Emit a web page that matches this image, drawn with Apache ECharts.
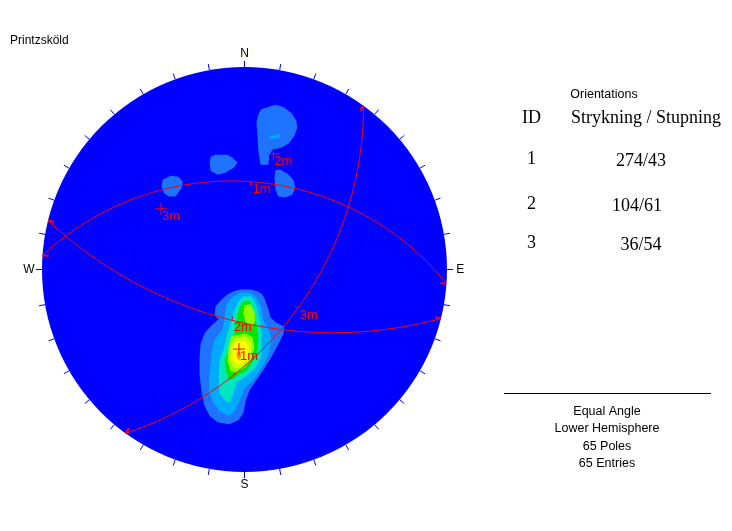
<!DOCTYPE html>
<html><head><meta charset="utf-8">
<script src="https://cdn.jsdelivr.net/npm/echarts@6/dist/echarts.min.js"></script>
<style>html,body{margin:0;padding:0;background:#fff}#c{width:732px;height:531px}</style>
</head><body><div id="c"></div>
<script>
// ---- data: planes (strike / dip, right-hand rule) ----
const planeIds = ['1', '2', '3'];
const strikes = [274, 104, 36];
const dips = [43, 61, 54];
const tickAzimuths = [0,10,20,30,40,50,60,70,80,90,100,110,120,130,140,150,160,170,180,190,200,210,220,230,240,250,260,270,280,290,300,310,320,330,340,350];
const directionLabels = ['N', 'E', 'S', 'W'];
const directionAzimuths = [0, 90, 180, 270];

// ---- density contours, vertices in % of primitive radius (x east, y north) ----
const mainL1 = [[-5.4,-10.8],[-2.0,-9.9],[3.0,-9.9],[6.4,-10.8],[8.9,-12.3],[10.3,-15.3],[11.8,-19.7],[12.8,-23.6],[15.3,-26.1],[19.7,-28.1],[19.2,-32.0],[16.7,-36.9],[13.8,-42.4],[9.9,-48.8],[5.9,-54.7],[2.5,-59.6],[0.5,-65.0],[-0.5,-70.9],[-3.0,-74.4],[-7.4,-76.4],[-13.3,-75.4],[-17.2,-72.4],[-19.7,-67.5],[-21.2,-60.6],[-22.2,-51.7],[-22.2,-43.3],[-21.7,-36.9],[-19.7,-31.5],[-16.3,-27.6],[-12.8,-24.6],[-14.8,-22.7],[-14.3,-18.2],[-11.3,-14.8],[-8.4,-12.3]];
const mainL2 = [[-2.5,-11.3],[2.5,-11.3],[5.9,-13.8],[8.4,-18.7],[9.4,-25.1],[11.8,-29.6],[13.3,-34.5],[12.3,-40.4],[9.4,-47.3],[4.4,-54.7],[0,-58.6],[-2.0,-64.0],[-4.9,-70.0],[-7.9,-72.4],[-12.3,-70.0],[-15.3,-66.0],[-17.7,-59.6],[-17.2,-51.2],[-16.3,-41.9],[-14.8,-34.5],[-10.8,-29.6],[-9.9,-23.6],[-8.9,-17.2],[-5.4,-13.3]];
const mainL3 = [[-0.5,-13.3],[3.4,-13.3],[5.9,-17.7],[7.4,-24.6],[8.4,-31.0],[8.4,-36.9],[8.4,-41.4],[6.9,-46.3],[4.4,-49.8],[-0.5,-53.7],[-3.9,-55.7],[-5.4,-61.1],[-7.4,-66.0],[-9.9,-64.5],[-12.3,-61.1],[-12.8,-52.7],[-12.3,-44.8],[-10.3,-39.4],[-8.9,-33.5],[-7.4,-28.6],[-5.4,-20.7],[-3.0,-15.8]];
const mainL4 = [[-0.5,-15.8],[2.5,-15.3],[4.4,-19.7],[5.9,-26.6],[6.9,-33.0],[6.4,-39.9],[4.4,-45.3],[1.0,-49.8],[-3.9,-52.7],[-7.4,-54.7],[-8.9,-51.2],[-9.9,-44.8],[-7.9,-40.4],[-6.4,-36.0],[-4.9,-31.5],[-3.9,-25.1],[-2.5,-19.2]];
const mainL5a = [[0,-17.7],[3.0,-17.2],[4.9,-20.7],[5.4,-25.6],[3.4,-28.1],[0.5,-26.1],[-0.5,-21.7]];
const mainL5b = [[-6.4,-33.0],[0.5,-31.5],[3.9,-33.5],[4.9,-38.4],[3.4,-44.3],[0.5,-48.3],[-3.4,-50.7],[-6.9,-50.2],[-8.4,-45.3],[-7.9,-38.4]];
const mainL6 = [[-5.4,-34.5],[0.5,-33.0],[3.0,-35.5],[3.4,-40.4],[1.5,-45.3],[-2.0,-48.8],[-5.4,-48.8],[-7.4,-44.3],[-6.9,-38.4]];
const mainL7 = [[-4.4,-36.0],[0,-35.0],[2.0,-37.9],[1.5,-42.9],[-1.0,-46.3],[-3.9,-46.8],[-5.9,-43.3],[-5.9,-38.9]];
const mainL8 = [[-3.9,-40.9],[-2.0,-40.9],[-1.5,-43.3],[-3.0,-44.8],[-3.9,-43.3]];
const northL1 = [[10.3,79.8],[15.3,81.3],[19.2,80.3],[23.2,77.3],[25.6,73.4],[26.1,70.0],[24.6,66.0],[21.7,62.1],[18.2,60.1],[13.8,59.1],[12.3,56.7],[11.8,51.7],[7.9,51.7],[6.9,58.1],[6.4,66.5],[5.9,72.9],[6.9,76.8],[8.4,79.3]];
const northL2 = [[12.3,65.5],[15.8,66.5],[17.2,67.0],[17.2,65.0],[12.8,64.5]];
const midL1 = [[-16.7,55.7],[-14.3,56.7],[-8.4,56.7],[-5.9,55.2],[-3.4,52.7],[-5.4,50.2],[-9.4,47.8],[-13.3,46.8],[-16.7,48.8],[-17.2,52.7]];
const westL1 = [[-40.4,44.3],[-36.5,46.3],[-32.5,45.8],[-30.5,43.3],[-31.0,40.4],[-34.0,36.0],[-37.4,36.0],[-39.9,37.9],[-40.9,40.9]];
const eastL1 = [[15.3,49.3],[17.7,49.3],[21.2,47.3],[24.1,44.3],[25.1,40.4],[23.6,36.9],[20.2,35.5],[16.7,36.0],[15.3,39.4],[14.8,45.3]];

const contours = [
  { level: 1, pts: mainL1 }, { level: 1, pts: northL1 }, { level: 1, pts: midL1 },
  { level: 1, pts: westL1 }, { level: 1, pts: eastL1 },
  { level: 2, pts: mainL2 }, { level: 2, pts: northL2 },
  { level: 3, pts: mainL3 }, { level: 4, pts: mainL4 },
  { level: 5, pts: mainL5a }, { level: 5, pts: mainL5b },
  { level: 6, pts: mainL6 }, { level: 7, pts: mainL7 }, { level: 8, pts: mainL8 }
];

// ---- styles ----
const levelColors = { 1: '#1e74ff', 2: '#00aaff', 3: '#00e6be', 4: '#00e600', 5: '#8cff00', 6: '#d2ff00', 7: '#ffff00', 8: '#ffa000' };
const RED = '#ff0000';
const BLUE = '#0000ff';
const SANS = '"Liberation Sans", Arial, sans-serif';
const SERIF = '"Liberation Serif", "Times New Roman", serif';

// ---- stereographic (equal angle) lower-hemisphere projection, % of radius ----
const rad = d => d * Math.PI / 180;
function project(trend, plunge) {
  const r = 100 * Math.tan(rad((90 - plunge) / 2));
  return [r * Math.sin(rad(trend)), r * Math.cos(rad(trend))];
}
function greatCircle(strike, dip) {
  const pts = [];
  for (let a = 0; a <= 180; a += 1) {
    const p = Math.atan(Math.tan(rad(dip)) * Math.sin(rad(a))) * 180 / Math.PI;
    pts.push(project(strike + a, p));
  }
  return pts;
}
const poles = planeIds.map((id, i) => { const p = project(strikes[i] - 90, 90 - dips[i]); return [p[0], p[1], id]; });
const mids = planeIds.map((id, i) => { const p = project(strikes[i] + 90, dips[i]); return [p[0], p[1], id]; });
const ends = [];
strikes.forEach(s => { ends.push([s]); ends.push([s + 180]); });

const chart = echarts.init(document.getElementById('c'), null, { renderer: 'canvas' });

const series = [];
// primitive circle
series.push({
  type: 'custom', z: 1, silent: true, clip: false, data: [[0, 0]],
  renderItem: (params, api) => {
    const c = api.coord([0, 0]); const e = api.coord([100, 0]);
    return { type: 'circle', shape: { cx: c[0], cy: c[1], r: e[0] - c[0] }, style: { fill: BLUE } };
  }
});
// ticks every 10°
series.push({
  type: 'custom', z: 2, silent: true, clip: false, data: tickAzimuths.map(a => [a]),
  renderItem: (params, api) => {
    const a = rad(api.value(0));
    const p1 = api.coord([100 * Math.sin(a), 100 * Math.cos(a)]);
    const p2 = api.coord([103 * Math.sin(a), 103 * Math.cos(a)]);
    return { type: 'line', shape: { x1: p1[0], y1: p1[1], x2: p2[0], y2: p2[1] }, style: { stroke: BLUE, lineWidth: 1 } };
  }
});
// direction labels
series.push({
  type: 'custom', z: 2, silent: true, clip: false,
  data: directionAzimuths.map((a, i) => [a, directionLabels[i]]),
  renderItem: (params, api) => {
    const a = rad(api.value(0));
    const p = api.coord([106.5 * Math.sin(a), 106.5 * Math.cos(a)]);
    return { type: 'text', x: p[0], y: p[1], style: { text: directionLabels[params.dataIndex], font: '12px ' + SANS, fill: '#000', align: 'center', verticalAlign: 'middle' } };
  }
});
// contours (sorted by level so inner levels lie on top)
contours.slice().sort((a, b) => a.level - b.level).forEach(ct => {
  series.push({
    type: 'custom', z: 3, silent: true, clip: false, data: ct.pts,
    renderItem: (params, api) => {
      if (params.dataIndex !== 0) return null;
      const pts = ct.pts.map(p => api.coord(p));
      return { type: 'polygon', shape: { points: pts }, style: { fill: levelColors[ct.level] } };
    }
  });
});
// great circles
planeIds.forEach((id, i) => {
  series.push({
    type: 'line', z: 4, silent: true, data: greatCircle(strikes[i], dips[i]), showSymbol: false, clip: false,
    lineStyle: { color: RED, width: 1 }, animation: false
  });
});
// end ticks of great circles
series.push({
  type: 'custom', z: 5, silent: true, clip: false, data: ends,
  renderItem: (params, api) => {
    const a = rad(api.value(0));
    const p1 = api.coord([100 * Math.sin(a), 100 * Math.cos(a)]);
    const p2 = api.coord([97 * Math.sin(a), 97 * Math.cos(a)]);
    return { type: 'line', shape: { x1: p1[0], y1: p1[1], x2: p2[0], y2: p2[1] }, style: { stroke: RED, lineWidth: 2 } };
  }
});
// mid-point ticks and labels
series.push({
  type: 'custom', z: 5, silent: true, clip: false, data: mids.map(m => [m[0], m[1]]),
  renderItem: (params, api) => {
    const x = api.value(0), y = api.value(1);
    const len = Math.hypot(x, y);
    const p = api.coord([x, y]);
    const q = api.coord([x - 2 * x / len, y - 2 * y / len]);
    return { type: 'group', children: [
      { type: 'line', shape: { x1: p[0], y1: p[1], x2: q[0], y2: q[1] }, style: { stroke: RED, lineWidth: 1 } },
      { type: 'text', x: p[0] + 2, y: p[1] + 1, style: { text: mids[params.dataIndex][2] + 'm', font: '13px ' + SANS, fill: RED, align: 'left', verticalAlign: 'top' } }
    ] };
  }
});
// poles
series.push({
  type: 'custom', z: 5, silent: true, clip: false, data: poles.map(m => [m[0], m[1]]),
  renderItem: (params, api) => {
    const p = api.coord([api.value(0), api.value(1)]);
    return { type: 'group', children: [
      { type: 'line', shape: { x1: p[0] - 6, y1: p[1], x2: p[0] + 6, y2: p[1] }, style: { stroke: RED, lineWidth: 1 } },
      { type: 'line', shape: { x1: p[0], y1: p[1] - 6, x2: p[0], y2: p[1] + 6 }, style: { stroke: RED, lineWidth: 1 } },
      { type: 'text', x: p[0] + 1, y: p[1] + 1, style: { text: poles[params.dataIndex][2] + 'm', font: '13px ' + SANS, fill: RED, align: 'left', verticalAlign: 'top' } }
    ] };
  }
});

const tableText = [];
const rowY = [159, 204, 243];
const rowValueX = [641, 637, 641];
planeIds.forEach((id, i) => {
  tableText.push({ type: 'text', x: 527, y: rowY[i], style: { text: id, font: '18px ' + SERIF, fill: '#000', align: 'left', verticalAlign: 'middle' } });
  tableText.push({ type: 'text', x: rowValueX[i], y: rowY[i] + 2, style: { text: String(strikes[i]) + '/' + String(dips[i]), font: '18px ' + SERIF, fill: '#000', align: 'center', verticalAlign: 'middle' } });
});

chart.setOption({
  animation: false,
  backgroundColor: '#ffffff',
  grid: { left: 42, top: 67, width: 405, height: 405, containLabel: false },
  xAxis: { type: 'value', min: -100, max: 100, show: false },
  yAxis: { type: 'value', min: -100, max: 100, show: false },
  series: series,
  graphic: [
    { type: 'text', x: 10, y: 41, style: { text: 'Printzsköld', font: '12px ' + SANS, fill: '#000', align: 'left', verticalAlign: 'middle' } },
    { type: 'text', x: 604, y: 95, style: { text: 'Orientations', font: '12.5px ' + SANS, fill: '#000', align: 'center', verticalAlign: 'middle' } },
    { type: 'text', x: 522, y: 118, style: { text: 'ID', font: '18px ' + SERIF, fill: '#000', align: 'left', verticalAlign: 'middle' } },
    { type: 'text', x: 571, y: 118, style: { text: 'Strykning / Stupning', font: '18px ' + SERIF, fill: '#000', align: 'left', verticalAlign: 'middle' } },
    ...tableText,
    { type: 'line', shape: { x1: 504, y1: 393.5, x2: 711, y2: 393.5 }, style: { stroke: '#000', lineWidth: 1 } },
    { type: 'text', x: 607, y: 412, style: { text: 'Equal Angle', font: '12.5px ' + SANS, fill: '#000', align: 'center', verticalAlign: 'middle' } },
    { type: 'text', x: 607, y: 429, style: { text: 'Lower Hemisphere', font: '12.5px ' + SANS, fill: '#000', align: 'center', verticalAlign: 'middle' } },
    { type: 'text', x: 607, y: 447, style: { text: '65 Poles', font: '12.5px ' + SANS, fill: '#000', align: 'center', verticalAlign: 'middle' } },
    { type: 'text', x: 607, y: 464, style: { text: '65 Entries', font: '12.5px ' + SANS, fill: '#000', align: 'center', verticalAlign: 'middle' } }
  ]
});
</script>
</body></html>
